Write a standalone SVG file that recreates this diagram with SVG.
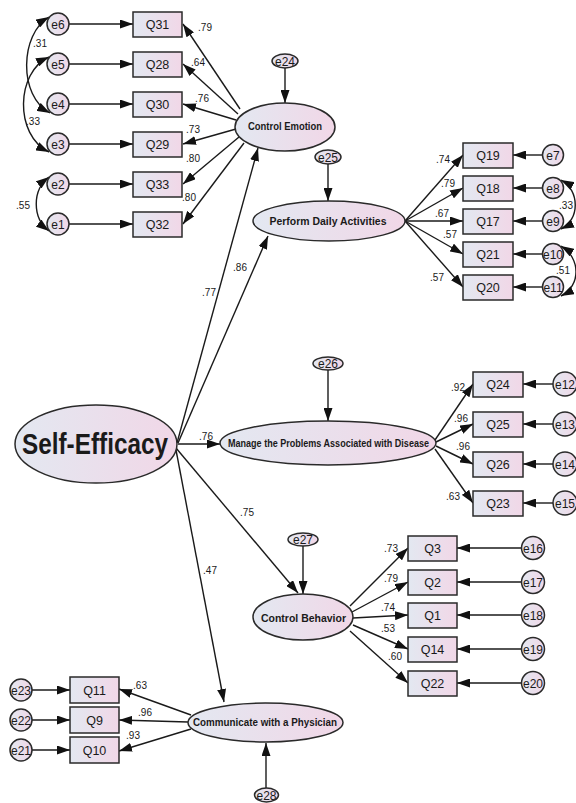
<svg xmlns="http://www.w3.org/2000/svg" width="576" height="803" viewBox="0 0 576 803">
<defs>
<linearGradient id="g" x1="0" y1="0" x2="1" y2="0">
<stop offset="0" stop-color="#e3e8f1"/>
<stop offset="1" stop-color="#f1d7e7"/>
</linearGradient>
<marker id="ah" viewBox="0 0 13 9" refX="13" refY="4.5" markerWidth="13" markerHeight="9" markerUnits="userSpaceOnUse" orient="auto-start-reverse">
<path d="M0,0 L13,4.5 L0,9 z" fill="#111"/>
</marker>
</defs>
<style>
.s{fill:url(#g);stroke:#2a2a2a;stroke-width:1.5}
.c line,.c path{stroke:#1a1a1a;stroke-width:1.4;fill:none;marker-end:url(#ah)}
.c path.cov{marker-start:url(#ah)}
text{font-family:"Liberation Sans",Arial,sans-serif;fill:#1a1a1a;text-anchor:middle}
.q{font-size:12.5px}
.e{font-size:12px}
.l{font-size:10px}
.b{font-weight:bold}
</style>
<rect width="576" height="803" fill="#fff"/>

<g class="c" id="connectors">
<line x1="69" y1="24" x2="133" y2="24"/>
<line x1="69" y1="64" x2="133" y2="64"/>
<line x1="69" y1="104" x2="133" y2="104"/>
<line x1="69" y1="144" x2="133" y2="144"/>
<line x1="69" y1="184" x2="133" y2="184"/>
<line x1="69" y1="224" x2="133" y2="224"/>
<line x1="240" y1="109" x2="183" y2="24"/>
<line x1="238" y1="114" x2="183" y2="64"/>
<line x1="236" y1="120" x2="183" y2="104"/>
<line x1="236" y1="129" x2="183" y2="144"/>
<line x1="239" y1="137" x2="183" y2="184"/>
<line x1="244" y1="143" x2="183" y2="224"/>
<line x1="285" y1="68" x2="285" y2="103"/>
<path class="cov" d="M49,17 C20,34 18,96 50,113"/>
<path class="cov" d="M49,57 C16,72 14,135 49,152"/>
<path class="cov" d="M49,177 C32,190 32,218 49,231"/>
<line x1="328" y1="164" x2="328" y2="201"/>
<line x1="405" y1="221" x2="463" y2="155"/>
<line x1="405" y1="221" x2="463" y2="188"/>
<line x1="405" y1="221" x2="463" y2="221"/>
<line x1="405" y1="221" x2="463" y2="254"/>
<line x1="405" y1="221" x2="463" y2="287"/>
<line x1="543" y1="155" x2="513" y2="155"/>
<line x1="543" y1="188" x2="513" y2="188"/>
<line x1="543" y1="221" x2="513" y2="221"/>
<line x1="543" y1="254" x2="513" y2="254"/>
<line x1="543" y1="287" x2="513" y2="287"/>
<path class="cov" d="M561,180 C580,190 580,220 561,229"/>
<path class="cov" d="M561,246 C581,258 581,286 561,296"/>
<line x1="177" y1="443" x2="258" y2="148"/>
<line x1="178" y1="443" x2="268" y2="236"/>
<line x1="178" y1="444" x2="220" y2="444"/>
<line x1="176" y1="448" x2="298" y2="593"/>
<line x1="176" y1="450" x2="224" y2="702"/>
<line x1="328" y1="370" x2="328" y2="421"/>
<line x1="435" y1="440" x2="473" y2="384"/>
<line x1="436" y1="442" x2="473" y2="424"/>
<line x1="436" y1="446" x2="473" y2="464"/>
<line x1="435" y1="449" x2="473" y2="503"/>
<line x1="553" y1="384" x2="523" y2="384"/>
<line x1="553" y1="424" x2="523" y2="424"/>
<line x1="553" y1="464" x2="523" y2="464"/>
<line x1="553" y1="503" x2="523" y2="503"/>
<line x1="303" y1="546" x2="303" y2="594"/>
<line x1="350" y1="606" x2="408" y2="548"/>
<line x1="352" y1="612" x2="408" y2="582"/>
<line x1="353" y1="618" x2="408" y2="615"/>
<line x1="353" y1="625" x2="408" y2="649"/>
<line x1="350" y1="631" x2="408" y2="683"/>
<line x1="521" y1="548" x2="457" y2="548"/>
<line x1="521" y1="582" x2="457" y2="582"/>
<line x1="521" y1="615" x2="457" y2="615"/>
<line x1="521" y1="649" x2="457" y2="649"/>
<line x1="521" y1="683" x2="457" y2="683"/>
<line x1="191" y1="715" x2="119" y2="689"/>
<line x1="188" y1="722" x2="119" y2="720"/>
<line x1="191" y1="729" x2="119" y2="751"/>
<line x1="32" y1="690" x2="70" y2="690"/>
<line x1="32" y1="720" x2="70" y2="720"/>
<line x1="32" y1="750" x2="70" y2="750"/>
<line x1="266" y1="788" x2="266" y2="743"/>
</g>

<g id="labels">
<text class="l" x="205" y="31">.79</text>
<text class="l" x="198" y="66">.64</text>
<text class="l" x="202" y="102">.76</text>
<text class="l" x="193" y="133">.73</text>
<text class="l" x="193" y="162">.80</text>
<text class="l" x="189" y="201">.80</text>
<text class="l" x="40" y="47">.31</text>
<text class="l" x="33" y="125">.33</text>
<text class="l" x="23" y="209">.55</text>
<text class="l" x="443" y="163">.74</text>
<text class="l" x="448" y="187">.79</text>
<text class="l" x="442" y="217">.67</text>
<text class="l" x="450" y="238">.57</text>
<text class="l" x="437" y="281">.57</text>
<text class="l" x="566" y="209">.33</text>
<text class="l" x="563" y="274">.51</text>
<text class="l" x="209" y="296">.77</text>
<text class="l" x="240" y="271">.86</text>
<text class="l" x="206" y="440">.76</text>
<text class="l" x="247" y="516">.75</text>
<text class="l" x="210" y="574">.47</text>
<text class="l" x="458" y="391">.92</text>
<text class="l" x="461" y="422">.96</text>
<text class="l" x="463" y="450">.96</text>
<text class="l" x="453" y="500">.63</text>
<text class="l" x="391" y="552">.73</text>
<text class="l" x="391" y="582">.79</text>
<text class="l" x="388" y="611">.74</text>
<text class="l" x="388" y="632">.53</text>
<text class="l" x="395" y="660">.60</text>
<text class="l" x="140" y="689">.63</text>
<text class="l" x="145" y="716">.96</text>
<text class="l" x="133" y="739">.93</text>
</g>

<g id="SelfEfficacy"><ellipse class="s" cx="96" cy="444" rx="81" ry="39"/><text class="b" x="95" y="454" font-size="29" textLength="146" lengthAdjust="spacingAndGlyphs">Self-Efficacy</text></g>

<g id="ControlEmotion"><ellipse class="s" cx="285" cy="127" rx="50" ry="24"/><text class="b" x="285" y="130" font-size="11" textLength="74" lengthAdjust="spacingAndGlyphs">Control Emotion</text></g>
<g id="e24"><ellipse class="s" cx="285" cy="61" rx="13" ry="7"/><text class="e" x="285" y="65.5">e24</text></g>
<g id="Q31"><rect class="s" x="133" y="12" width="49" height="25"/><text class="q" x="157.5" y="29">Q31</text></g>
<g id="Q28"><rect class="s" x="133" y="52" width="49" height="25"/><text class="q" x="157.5" y="69">Q28</text></g>
<g id="Q30"><rect class="s" x="133" y="92" width="49" height="25"/><text class="q" x="157.5" y="109">Q30</text></g>
<g id="Q29"><rect class="s" x="133" y="132" width="49" height="25"/><text class="q" x="157.5" y="149">Q29</text></g>
<g id="Q33"><rect class="s" x="133" y="172" width="49" height="25"/><text class="q" x="157.5" y="189">Q33</text></g>
<g id="Q32"><rect class="s" x="133" y="212" width="49" height="25"/><text class="q" x="157.5" y="229">Q32</text></g>
<g id="e6"><circle class="s" cx="58" cy="24" r="11"/><text class="e" x="58" y="28.5">e6</text></g>
<g id="e5"><circle class="s" cx="58" cy="64" r="11"/><text class="e" x="58" y="68.5">e5</text></g>
<g id="e4"><circle class="s" cx="58" cy="104" r="11"/><text class="e" x="58" y="108.5">e4</text></g>
<g id="e3"><circle class="s" cx="58" cy="144" r="11"/><text class="e" x="58" y="148.5">e3</text></g>
<g id="e2"><circle class="s" cx="58" cy="184" r="11"/><text class="e" x="58" y="188.5">e2</text></g>
<g id="e1"><circle class="s" cx="58" cy="224" r="11"/><text class="e" x="58" y="228.5">e1</text></g>

<g id="PerformDailyActivities"><ellipse class="s" cx="329" cy="221" rx="76" ry="20"/><text class="b" x="328" y="225" font-size="11" textLength="117" lengthAdjust="spacingAndGlyphs">Perform Daily Activities</text></g>
<g id="e25"><ellipse class="s" cx="328" cy="157" rx="13" ry="7"/><text class="e" x="328" y="161.5">e25</text></g>
<g id="Q19"><rect class="s" x="463" y="143" width="50" height="25"/><text class="q" x="488" y="160">Q19</text></g>
<g id="Q18"><rect class="s" x="463" y="176" width="50" height="25"/><text class="q" x="488" y="193">Q18</text></g>
<g id="Q17"><rect class="s" x="463" y="209" width="50" height="25"/><text class="q" x="488" y="226">Q17</text></g>
<g id="Q21"><rect class="s" x="463" y="242" width="50" height="25"/><text class="q" x="488" y="259">Q21</text></g>
<g id="Q20"><rect class="s" x="463" y="275" width="50" height="25"/><text class="q" x="488" y="292">Q20</text></g>
<g id="e7"><circle class="s" cx="553" cy="155" r="10.5"/><text class="e" x="553" y="159.5">e7</text></g>
<g id="e8"><circle class="s" cx="553" cy="188" r="10.5"/><text class="e" x="553" y="192.5">e8</text></g>
<g id="e9"><circle class="s" cx="553" cy="221" r="10.5"/><text class="e" x="553" y="225.5">e9</text></g>
<g id="e10"><circle class="s" cx="553" cy="254" r="10.5"/><text class="e" x="553" y="258.5">e10</text></g>
<g id="e11"><circle class="s" cx="553" cy="287" r="10.5"/><text class="e" x="553" y="291.5">e11</text></g>

<g id="ManageProblems"><ellipse class="s" cx="328" cy="443" rx="108" ry="22"/><text class="b" x="328.5" y="447" font-size="10" textLength="201" lengthAdjust="spacingAndGlyphs">Manage the Problems Associated with Disease</text></g>
<g id="e26"><ellipse class="s" cx="328" cy="363.5" rx="15" ry="6.5"/><text class="e" x="328" y="368">e26</text></g>
<g id="Q24"><rect class="s" x="473" y="372" width="50" height="25"/><text class="q" x="498" y="389">Q24</text></g>
<g id="Q25"><rect class="s" x="473" y="412" width="50" height="25"/><text class="q" x="498" y="429">Q25</text></g>
<g id="Q26"><rect class="s" x="473" y="452" width="50" height="25"/><text class="q" x="498" y="469">Q26</text></g>
<g id="Q23"><rect class="s" x="473" y="491" width="50" height="25"/><text class="q" x="498" y="508">Q23</text></g>
<g id="e12"><circle class="s" cx="565" cy="384" r="12"/><text class="e" x="565" y="388.5">e12</text></g>
<g id="e13"><circle class="s" cx="565" cy="424" r="12"/><text class="e" x="565" y="428.5">e13</text></g>
<g id="e14"><circle class="s" cx="565" cy="464" r="12"/><text class="e" x="565" y="468.5">e14</text></g>
<g id="e15"><circle class="s" cx="565" cy="503" r="12"/><text class="e" x="565" y="507.5">e15</text></g>

<g id="ControlBehavior"><ellipse class="s" cx="303" cy="617" rx="50" ry="23"/><text class="b" x="303.5" y="622" font-size="11" textLength="85" lengthAdjust="spacingAndGlyphs">Control Behavior</text></g>
<g id="e27"><ellipse class="s" cx="303" cy="539.5" rx="15" ry="6.5"/><text class="e" x="303" y="544">e27</text></g>
<g id="Q3"><rect class="s" x="408" y="536" width="49" height="25"/><text class="q" x="432.5" y="553">Q3</text></g>
<g id="Q2"><rect class="s" x="408" y="570" width="49" height="25"/><text class="q" x="432.5" y="587">Q2</text></g>
<g id="Q1"><rect class="s" x="408" y="603" width="49" height="25"/><text class="q" x="432.5" y="620">Q1</text></g>
<g id="Q14"><rect class="s" x="408" y="637" width="49" height="25"/><text class="q" x="432.5" y="654">Q14</text></g>
<g id="Q22"><rect class="s" x="408" y="671" width="49" height="25"/><text class="q" x="432.5" y="688">Q22</text></g>
<g id="e16"><circle class="s" cx="533" cy="548" r="11.5"/><text class="e" x="533" y="552.5">e16</text></g>
<g id="e17"><circle class="s" cx="533" cy="582" r="11.5"/><text class="e" x="533" y="586.5">e17</text></g>
<g id="e18"><circle class="s" cx="533" cy="615" r="11.5"/><text class="e" x="533" y="619.5">e18</text></g>
<g id="e19"><circle class="s" cx="533" cy="649" r="11.5"/><text class="e" x="533" y="653.5">e19</text></g>
<g id="e20"><circle class="s" cx="533" cy="683" r="11.5"/><text class="e" x="533" y="687.5">e20</text></g>

<g id="CommunicatePhysician"><ellipse class="s" cx="265.5" cy="722.5" rx="77.5" ry="19.5"/><text class="b" x="265" y="726" font-size="10.5" textLength="144" lengthAdjust="spacingAndGlyphs">Communicate with a Physician</text></g>
<g id="e28"><ellipse class="s" cx="266.5" cy="795" rx="12" ry="7"/><text class="e" x="266.5" y="799.5">e28</text></g>
<g id="Q11"><rect class="s" x="70" y="677" width="49" height="26"/><text class="q" x="94.5" y="694.5">Q11</text></g>
<g id="Q9"><rect class="s" x="70" y="707" width="49" height="26"/><text class="q" x="94.5" y="724.5">Q9</text></g>
<g id="Q10"><rect class="s" x="70" y="737" width="49" height="26"/><text class="q" x="94.5" y="754.5">Q10</text></g>
<g id="e23"><circle class="s" cx="21" cy="690" r="11"/><text class="e" x="21" y="694.5">e23</text></g>
<g id="e22"><circle class="s" cx="21" cy="720" r="11"/><text class="e" x="21" y="724.5">e22</text></g>
<g id="e21"><circle class="s" cx="21" cy="750" r="11"/><text class="e" x="21" y="754.5">e21</text></g>
</svg>
